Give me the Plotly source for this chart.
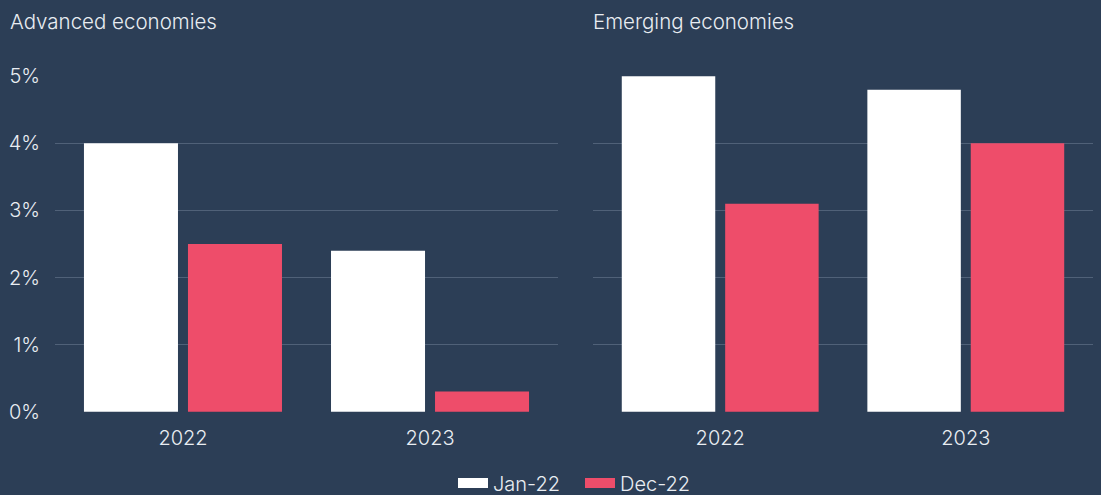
import plotly.graph_objects as go

# Data
years = ["2022", "2023"]
advanced_jan22 = [4.0, 2.4]
advanced_dec22 = [2.5, 0.3]
emerging_jan22 = [5.0, 4.8]
emerging_dec22 = [3.1, 4.0]
y_ticks = [0, 1, 2, 3, 4, 5]
y_tick_labels = ["0%", "1%", "2%", "3%", "4%", "5%"]
panel_titles = ["Advanced economies", "Emerging economies"]
series_names = ["Jan-22", "Dec-22"]

BG = "#2c3e56"
WHITE = "#ffffff"
RED = "#ee4d6a"
GRID = "#506178"
TEXT = "#e9edf2"
FONT = "Inter"
WEIGHT = 300

W, H = 1101, 495
L, R, T, B = 55, 8, 76, 83
pw = W - L - R
ph = H - T - B


def px_x(px):
    return (px - L) / pw


def px_y(px):
    return (H - B - px) / ph


def font(size):
    return dict(size=size, color=TEXT, family=FONT, weight=WEIGHT)


fig = go.Figure()

panels = [
    ("x", "y", advanced_jan22, advanced_dec22),
    ("x2", "y2", emerging_jan22, emerging_dec22),
]
for xa, ya, jan, dec in panels:
    fig.add_trace(go.Bar(x=years, y=jan, name=series_names[0], marker_color=WHITE,
                         marker_line_width=0, xaxis=xa, yaxis=ya, showlegend=False))
    fig.add_trace(go.Bar(x=years, y=dec, name=series_names[1], marker_color=RED,
                         marker_line_width=0, xaxis=xa, yaxis=ya, showlegend=False))

# Legend entries drawn as wide swatches
for name, col in zip(series_names, [WHITE, RED]):
    fig.add_trace(go.Scatter(x=[None], y=[None], mode="lines", name=name,
                             line=dict(color=col, width=10), xaxis="x", yaxis="y"))

dom1 = [0, px_x(558)]
dom2 = [px_x(593), px_x(1093)]

xcommon = dict(type="category", range=[-0.518, 1.518], showgrid=False, zeroline=False,
               showline=False, ticks="", ticklabelstandoff=12, automargin=False,
               tickfont=font(20))
ycommon = dict(range=[-0.004, 5.004], tickvals=y_ticks, ticktext=y_tick_labels,
               showgrid=True, gridcolor=GRID, gridwidth=1, zeroline=False,
               showline=False, ticks="", ticklabelstandoff=14, automargin=False,
               tickfont=font(20))

fig.update_layout(
    width=W, height=H,
    paper_bgcolor=BG, plot_bgcolor=BG,
    margin=dict(l=L, r=R, t=T, b=B, autoexpand=False),
    barmode="group", bargap=0.158, bargroupgap=0.096,
    font=font(20),
    xaxis=dict(domain=dom1, anchor="y", **xcommon),
    xaxis2=dict(domain=dom2, anchor="y2", **xcommon),
    yaxis=dict(anchor="x", **ycommon),
    yaxis2=dict(anchor="x2", showticklabels=False, **ycommon),
    legend=dict(orientation="h", x=580 / W, xref="container", xanchor="center",
                y=1 - 483 / H, yref="container", yanchor="middle",
                font=font(20), bgcolor="rgba(0,0,0,0)",
                itemwidth=30, entrywidth=82, tracegroupgap=0),
    annotations=[
        dict(text=panel_titles[0], x=px_x(10), y=px_y(22), xref="paper", yref="paper",
             showarrow=False, xanchor="left", yanchor="middle", xshift=-2, font=font(20.5)),
        dict(text=panel_titles[1], x=px_x(593), y=px_y(22), xref="paper", yref="paper",
             showarrow=False, xanchor="left", yanchor="middle", xshift=-2, font=font(20.5)),
    ],
)

fig.write_html("out.html")
